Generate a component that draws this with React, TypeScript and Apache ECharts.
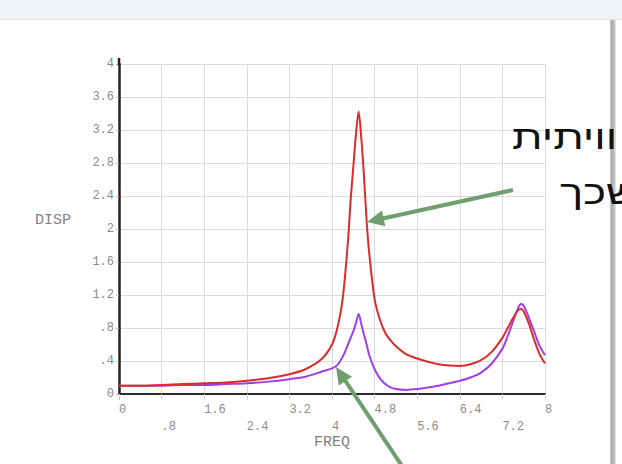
import React, { useEffect, useRef } from "react";
import * as echarts from "echarts";

const freq = [0, 0.4, 0.8, 1.2, 1.6, 2.0, 2.4, 2.8, 3.2, 3.5, 3.8, 4.0, 4.1, 4.2, 4.3, 4.35, 4.4, 4.45, 4.5, 4.55, 4.6, 4.65, 4.7, 4.8, 4.9, 5.0, 5.1, 5.2, 5.4, 5.6, 5.8, 6.0, 6.2, 6.4, 6.6, 6.8, 7.0, 7.2, 7.3, 7.4, 7.5, 7.55, 7.6, 7.7, 7.8, 7.9, 8.0];
const dispRed = [0.10, 0.10, 0.11, 0.12, 0.13, 0.14, 0.16, 0.19, 0.24, 0.30, 0.42, 0.60, 0.80, 1.15, 1.85, 2.35, 2.75, 3.15, 3.42, 3.10, 2.65, 2.10, 1.70, 1.15, 0.90, 0.74, 0.65, 0.58, 0.48, 0.43, 0.39, 0.36, 0.345, 0.34, 0.36, 0.41, 0.51, 0.68, 0.80, 0.92, 1.02, 1.03, 1.00, 0.85, 0.65, 0.48, 0.37];
const dispPurple = [0.10, 0.10, 0.10, 0.11, 0.11, 0.12, 0.13, 0.15, 0.18, 0.21, 0.27, 0.31, 0.35, 0.45, 0.60, 0.68, 0.76, 0.86, 0.97, 0.85, 0.72, 0.60, 0.47, 0.30, 0.19, 0.12, 0.08, 0.06, 0.05, 0.06, 0.08, 0.10, 0.13, 0.16, 0.20, 0.26, 0.37, 0.55, 0.70, 0.88, 1.05, 1.09, 1.07, 0.92, 0.75, 0.58, 0.47];
const xTickLabels = ["0", ".8", "1.6", "2.4", "3.2", "4", "4.8", "5.6", "6.4", "7.2", "8"];
const yTickLabels = ["0", ".4", ".8", "1.2", "1.6", "2", "2.4", "2.8", "3.2", "3.6", "4"];
const xName = "FREQ";
const yName = "DISP";
const noteLine1 = "וויתית";
const noteLine2 = "שכך";

const MONO = '"Liberation Mono", "DejaVu Sans Mono", monospace';
const HEB = '34px "Liberation Sans", "DejaVu Sans", sans-serif';
const ARROW = "#6f9f6c";

function arrow(tail: number[], tip: number[], width: number, headLen: number, headHalf: number) {
  const dx = tip[0] - tail[0];
  const dy = tip[1] - tail[1];
  const len = Math.sqrt(dx * dx + dy * dy);
  const ux = dx / len;
  const uy = dy / len;
  const bx = tip[0] - ux * headLen;
  const by = tip[1] - uy * headLen;
  const nx = -uy;
  const ny = ux;
  return [
    {
      type: "line",
      z: 100,
      shape: { x1: tail[0], y1: tail[1], x2: bx + ux * 2, y2: by + uy * 2 },
      style: { stroke: ARROW, lineWidth: width },
    },
    {
      type: "polygon",
      z: 100,
      shape: {
        points: [
          [tip[0], tip[1]],
          [bx + nx * headHalf, by + ny * headHalf],
          [bx - nx * headHalf, by - ny * headHalf],
        ],
      },
      style: { fill: ARROW },
    },
  ];
}

export default function App() {
  const ref = useRef<HTMLDivElement>(null);
  useEffect(() => {
    if (!ref.current) return;
    const chart = echarts.init(ref.current, null, { renderer: "svg" });
    const red = freq.map((f, i) => [f, dispRed[i]]);
    const purple = freq.map((f, i) => [f, dispPurple[i]]);
    chart.setOption({
      animation: false,
      backgroundColor: "#ffffff",
      grid: { left: 119, right: 77, top: 64, bottom: 70, containLabel: false },
      xAxis: {
        type: "value",
        min: 0,
        max: 8,
        interval: 0.8,
        axisLine: { show: true, onZero: false, lineStyle: { color: "#2a2a2a", width: 2 } },
        axisTick: { show: true, length: 6, lineStyle: { color: "#d0d0d0" } },
        splitLine: { show: true, lineStyle: { color: "#dadada", width: 1 } },
        axisLabel: {
          margin: 7,
          align: "left",
          color: "#8a8a8a",
          fontFamily: MONO,
          fontSize: 12,
          lineHeight: 17,
          formatter: (v: number) => {
            const i = Math.round(v / 0.8);
            const s = xTickLabels[i] ?? "";
            return i % 2 === 1 ? "\n" + s : s;
          },
        },
      },
      yAxis: {
        type: "value",
        min: 0,
        max: 4,
        interval: 0.4,
        axisLine: { show: true, lineStyle: { color: "#222", width: 2.5 } },
        axisTick: { show: true, length: 3, lineStyle: { color: "#bbb" } },
        splitLine: { show: true, lineStyle: { color: "#dadada", width: 1 } },
        axisLabel: {
          margin: 5,
          color: "#8a8a8a",
          fontFamily: MONO,
          fontSize: 12,
          padding: [0, 0, 5, 0],
          formatter: (v: number) => yTickLabels[Math.round(v / 0.4)] ?? "",
        },
      },
      series: [
        {
          type: "line",
          data: purple,
          showSymbol: false,
          smooth: 0.3,
          lineStyle: { color: "#a23ee8", width: 2 },
          itemStyle: { color: "#a23ee8" },
          z: 3,
        },
        {
          type: "line",
          data: red,
          showSymbol: false,
          smooth: 0.3,
          lineStyle: { color: "#dc2c2a", width: 2 },
          itemStyle: { color: "#dc2c2a" },
          z: 4,
        },
      ],
      graphic: [
        { type: "rect", z: 50, shape: { x: 0, y: 0, width: 622, height: 19 }, style: { fill: "#f1f4f7" } },
        { type: "line", z: 50, shape: { x1: 0, y1: 19.5, x2: 622, y2: 19.5 }, style: { stroke: "#dfe3e8", lineWidth: 1 } },
        { type: "line", z: 50, shape: { x1: 119, y1: 58, x2: 119, y2: 66 }, style: { stroke: "#222", lineWidth: 2.5 } },
        {
          type: "rect",
          z: 50,
          shape: { x: 610, y: 20, width: 6, height: 444 },
          style: {
            fill: new echarts.graphic.LinearGradient(0, 0, 1, 0, [
              { offset: 0, color: "#c8c8c8" },
              { offset: 0.4, color: "#a8a8a8" },
              { offset: 1, color: "#e6e6e6" },
            ]),
          },
        },
        {
          type: "text",
          z: 60,
          x: 53,
          y: 220,
          style: { text: yName, fill: "#808080", font: `15px ${MONO}`, textAlign: "center", textVerticalAlign: "middle" },
        },
        {
          type: "text",
          z: 60,
          x: 332,
          y: 442,
          style: { text: xName, fill: "#808080", font: `15px ${MONO}`, textAlign: "center", textVerticalAlign: "middle" },
        },
        {
          type: "text",
          z: 110,
          x: 512,
          y: 137,
          scaleX: 1.3,
          style: { text: noteLine1, fill: "#111", font: HEB, textAlign: "left", textVerticalAlign: "middle" },
        },
        {
          type: "text",
          z: 110,
          x: 560,
          y: 192,
          scaleX: 1.28,
          style: { text: noteLine2, fill: "#111", font: HEB, textAlign: "left", textVerticalAlign: "middle" },
        },
        ...arrow([513, 190], [367, 222], 4, 17, 8),
        ...arrow([406, 472], [336, 367], 4, 17, 8),
      ],
    });
    return () => chart.dispose();
  }, []);
  return <div ref={ref} style={{ position: "fixed", left: 0, top: 0, width: 622, height: 464 }} />;
}
